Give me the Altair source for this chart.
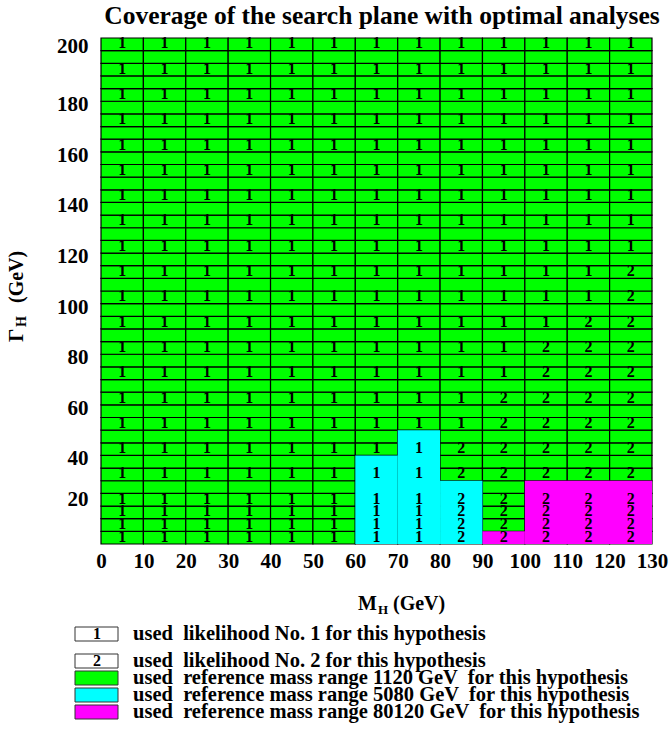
import altair as alt
import pandas as pd

# Search-plane grid: Higgs mass columns (GeV) and width rows (GeV)
mass_lo = [0, 10, 20, 30, 40, 50, 60, 70, 80, 90, 100, 110, 120]
mass_step = 10
gamma_step = 5
gamma_max = 200

# Width hypotheses that carry a likelihood label
gamma_hyp = [5, 10, 15, 20, 30, 40, 50, 60, 70, 80, 90, 100, 110, 120,
             130, 140, 150, 160, 170, 180, 190, 200]

# Likelihood used per hypothesis, one character per mass column (5 ... 125 GeV)
likelihood_rows = {
    200: "1111111111111", 190: "1111111111111", 180: "1111111111111",
    170: "1111111111111", 160: "1111111111111", 150: "1111111111111",
    140: "1111111111111", 130: "1111111111111", 120: "1111111111111",
    110: "1111111111112", 100: "1111111111112", 90: "1111111111122",
    80: "1111111111222", 70: "1111111111222", 60: "1111111112222",
    50: "1111111112222", 40: "1111111122222", 30: "1111111122222",
    20: "1111111122222", 15: "1111111122222", 10: "1111111122222",
    5: "1111111122222",
}

# Areas that used a different reference mass range
region_m0 = [60, 70, 80, 90, 100]
region_m1 = [70, 80, 90, 100, 130]
region_gtop = [35, 45, 25, 5, 25]
region_range = ["5080", "5080", "5080", "80120", "80120"]

range_colors = {"1120": "#00ff00", "5080": "#00ffff", "80120": "#ff00ff"}

x_ticks = [0, 10, 20, 30, 40, 50, 60, 70, 80, 90, 100, 110, 120, 130]
y_ticks = [20, 40, 60, 80, 100, 120, 140, 160, 180, 200]

NB = "\u00a0"  # keeps the doubled spaces of the legend lines
legend_labels = [
    f"used {NB}likelihood No. 1 for this hypothesis",
    f"used {NB}likelihood No. 2 for this hypothesis",
    f"used {NB}reference mass range 1120 GeV {NB}for this hypothesis",
    f"used {NB}reference mass range 5080 GeV {NB}for this hypothesis",
    f"used {NB}reference mass range 80120 GeV {NB}for this hypothesis",
]
legend_keys = ["1", "2", "1120", "5080", "80120"]

FONT = "Liberation Serif"
W, H = 551, 506

cells = pd.DataFrame(
    [{"m0": m, "m1": m + mass_step, "g0": g, "g1": g + gamma_step}
     for m in mass_lo for g in range(0, gamma_max, gamma_step)]
)
regions = pd.DataFrame({"m0": region_m0, "m1": region_m1, "g1": region_gtop,
                        "rng": region_range})
regions["g0"] = 0
regions["color"] = [range_colors[r] for r in region_range]

labels = pd.DataFrame(
    [{"mass": m + mass_step / 2, "gamma": g, "lik": likelihood_rows[g][i]}
     for g in gamma_hyp for i, m in enumerate(mass_lo)]
)

xs = alt.Scale(domain=[0, 130], nice=False, zero=False)
ys = alt.Scale(domain=[0, gamma_max], nice=False, zero=False)

x_axis = alt.Axis(values=x_ticks, title=None, domain=False, ticks=False, grid=False,
                  labelFont=FONT, labelFontWeight="bold", labelFontSize=21,
                  labelColor="black", labelPadding=6, labelFlush=False)
y_axis = alt.Axis(values=y_ticks, title=None, domain=False, ticks=False, grid=False,
                  labelFont=FONT, labelFontWeight="bold", labelFontSize=21,
                  labelColor="black", labelPadding=13, labelFlush=False,
                  labelOffset={"condition": [{"test": "datum.value == 200", "value": 8},
                                             {"test": "datum.value == 20", "value": 6}],
                               "value": 16})

grid = alt.Chart(cells).mark_rect(fill="#00ff00", stroke="black", strokeWidth=1.2).encode(
    x=alt.X("m0:Q", scale=xs, axis=x_axis),
    x2="m1:Q",
    y=alt.Y("g0:Q", scale=ys, axis=y_axis),
    y2="g1:Q",
)

special = alt.Chart(regions).mark_rect(strokeWidth=0).encode(
    x="m0:Q", x2="m1:Q", y="g0:Q", y2="g1:Q",
    fill=alt.Fill("color:N", scale=None),
)

cell_text = alt.Chart(labels).mark_text(
    font=FONT, fontWeight="bold", fontSize=16, color="black", baseline="middle", dy=-1
).transform_calculate(yc=f"datum.gamma - {gamma_step / 2}").encode(
    x="mass:Q", y="yc:Q", text="lik:N",
)

layers = [grid, special, cell_text]


def note(text, x, y, size, angle=0, align="left", baseline="alphabetic"):
    return alt.Chart().mark_text(
        text=text, font=FONT, fontWeight="bold", fontSize=size, color="black",
        align=align, baseline=baseline, angle=angle,
    ).encode(x=alt.value(x), y=alt.value(y))


# Title and axis titles (with subscript H)
layers += [
    note("Coverage of the search plane with optimal analyses", 281, -22, 25.5,
         align="center", baseline="middle"),
    note("M", 257, 572, 20),
    note("H", 277, 576, 13),
    note("(GeV)", 292, 572, 20),
    note("\u0393", -78, 304, 21, angle=270),
    note("H", -75, 289, 14, angle=270),
    note("(GeV)", -78, 265, 20, angle=270),
]

# Legend rows
leg_y0, leg_gap, leg_step = 596, 27, 17
for i, (key, text) in enumerate(zip(legend_keys, legend_labels)):
    yc = leg_y0 + (0 if i == 0 else leg_gap + (i - 1) * leg_step)
    if key in range_colors:
        box = alt.Chart().mark_rect(fill=range_colors[key], stroke="#333333", strokeWidth=1)
    else:
        box = alt.Chart().mark_rect(fill="white", stroke="#333333", strokeWidth=1)
    layers.append(box.encode(x=alt.value(-26), x2=alt.value(17),
                             y=alt.value(yc - 7), y2=alt.value(yc + 7)))
    if key not in range_colors:
        layers.append(note(key, -4, yc, 16, align="center", baseline="middle"))
    layers.append(note(text, 32, yc, 20.5, baseline="middle"))

chart = alt.layer(*layers).properties(
    width=W, height=H,
    autosize=alt.AutoSizeParams(type="none"),
    padding={"left": 101, "top": 38, "right": 17, "bottom": 192},
    background="white",
).configure_view(stroke=None)

chart.save("out.html", embed_options={"renderer": "svg", "actions": False})
